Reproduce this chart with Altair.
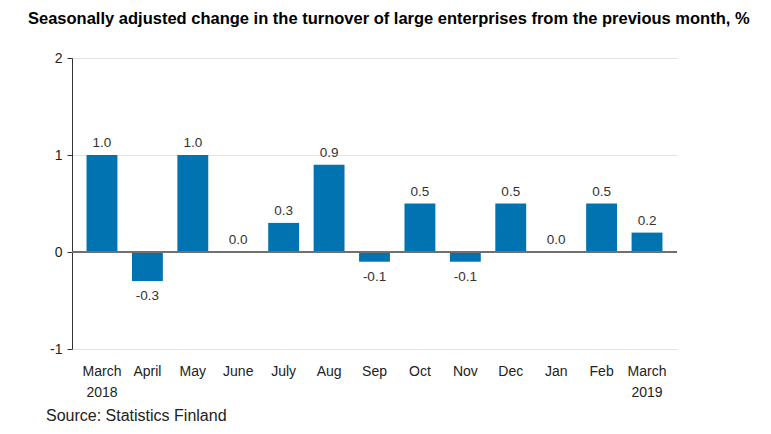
import altair as alt
import pandas as pd

months = ["March 2018", "April", "May", "June", "July", "Aug", "Sep", "Oct",
          "Nov", "Dec", "Jan", "Feb", "March 2019"]
values = [1.0, -0.3, 1.0, 0.0, 0.3, 0.9, -0.1, 0.5, -0.1, 0.5, 0.0, 0.5, 0.2]
title_text = "Seasonally adjusted change in the turnover of large enterprises from the previous month, %"
source_text = "Source: Statistics Finland"

df = pd.DataFrame({"month": months, "value": values})
df["label"] = df["value"].map(lambda v: f"{v:.1f}")

W, H = 605, 291
FONT = "Liberation Sans"

x = alt.X("month:N", sort=months, title=None,
          scale=alt.Scale(paddingInner=0.32, paddingOuter=0.32),
          axis=alt.Axis(labelAngle=0, labelExpr="split(datum.label, ' ')",
                        ticks=False, domain=False, labelFontSize=14,
                        labelColor="#222", labelPadding=15, labelFont=FONT,
                        labelLineHeight=21, grid=False))
y = alt.Y("value:Q", title=None,
          scale=alt.Scale(domain=[-1, 2], nice=False),
          axis=alt.Axis(values=[-1, 0, 1, 2], grid=True,
                        labelExpr="datum.value < 0 ? '-' + abs(datum.value) : '' + datum.value",
                        gridColor="#e3e3e3", domainColor="#333",
                        tickColor="#333", tickSize=5, labelFontSize=14,
                        labelColor="#222", labelPadding=5, labelFont=FONT))

base = alt.Chart(df)

bars = base.mark_bar(color="#0073B0").encode(x=x, y=y, y2=alt.datum(0))

zero = base.mark_rule(color="#707070", strokeWidth=2).encode(y=alt.datum(0))

labels_pos = base.transform_filter("datum.value >= 0").mark_text(
    baseline="bottom", dy=-5, fontSize=13.5, color="#333", font=FONT
).encode(x=alt.X("month:N", sort=months), y="value:Q", text="label:N")

labels_neg = base.transform_filter("datum.value < 0").mark_text(
    baseline="top", dy=8, fontSize=13.5, color="#333", font=FONT
).encode(x=alt.X("month:N", sort=months), y="value:Q", text="label:N")

title = alt.Chart(pd.DataFrame({"t": [title_text]})).mark_text(
    align="left", baseline="alphabetic", fontSize=16.5, fontWeight="bold",
    color="#000", font=FONT
).encode(x=alt.value(-44), y=alt.value(-34), text="t:N")

source = alt.Chart(pd.DataFrame({"t": [source_text]})).mark_text(
    align="left", baseline="alphabetic", fontSize=16, color="#222", font=FONT
).encode(x=alt.value(-26), y=alt.value(363), text="t:N")

chart = alt.layer(bars, zero, labels_pos, labels_neg, title, source).properties(
    width=W, height=H,
    autosize=alt.AutoSizeParams(type="none"),
    padding={"left": 64, "top": 50, "right": 86, "bottom": 76},
    background="white",
).configure_view(stroke=None)

chart.save("out.html", embed_options={"renderer": "svg", "actions": False})
